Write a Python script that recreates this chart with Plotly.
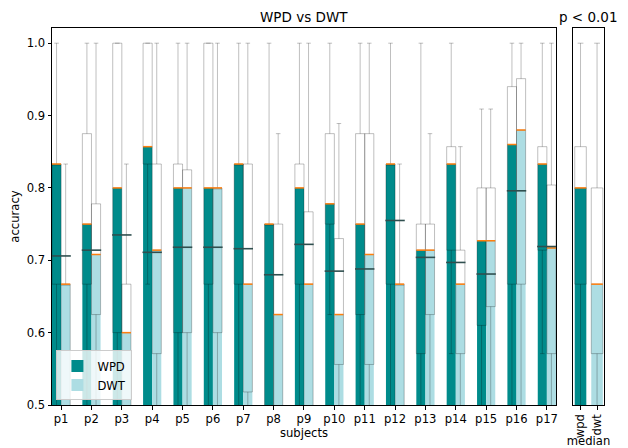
import plotly.graph_objects as go

subjects = [f"p{i}" for i in range(1, 18)]

# WPD per-subject box statistics
wpd_med = [0.833, 0.75, 0.8, 0.857, 0.8, 0.8, 0.833, 0.75, 0.8, 0.778, 0.75, 0.833, 0.714, 0.833, 0.727, 0.86, 0.833]
wpd_q1 = [0.667, 0.667, 0.6, 0.833, 0.6, 0.667, 0.667, 0.45, 0.667, 0.75, 0.625, 0.667, 0.571, 0.714, 0.61, 0.667, 0.714]
wpd_q3 = [0.833, 0.875, 1.0, 1.0, 0.833, 1.0, 0.833, 0.75, 0.833, 0.875, 0.875, 0.833, 0.75, 0.857, 0.8, 0.94, 0.857]
wpd_lo = [0.4, 0.4, 0.4, 0.667, 0.4, 0.4, 0.4, 0.3, 0.4, 0.625, 0.4, 0.4, 0.4, 0.571, 0.4, 0.4, 0.571]
wpd_hi = [1.0, 1.0, 1.0, 1.0, 1.0, 1.0, 1.0, 1.0, 1.0, 1.0, 1.0, 1.0, 1.0, 1.0, 0.909, 1.0, 1.0]

# DWT per-subject box statistics
dwt_med = [0.667, 0.708, 0.6, 0.714, 0.8, 0.8, 0.667, 0.625, 0.667, 0.625, 0.708, 0.667, 0.714, 0.667, 0.727, 0.88, 0.717]
dwt_q1 = [0.45, 0.625, 0.45, 0.571, 0.6, 0.6, 0.518, 0.45, 0.45, 0.556, 0.556, 0.45, 0.625, 0.571, 0.636, 0.667, 0.571]
dwt_q3 = [0.667, 0.778, 0.667, 0.833, 0.825, 0.8, 0.833, 0.75, 0.767, 0.73, 0.875, 0.667, 0.75, 0.714, 0.8, 0.951, 0.804]
dwt_lo = [0.4, 0.4, 0.4, 0.4, 0.4, 0.4, 0.4, 0.3, 0.4, 0.4, 0.4, 0.4, 0.4, 0.4, 0.4, 0.4, 0.4]
dwt_hi = [0.833, 1.0, 0.833, 1.0, 1.0, 1.0, 1.0, 0.875, 1.0, 0.889, 1.0, 0.833, 0.875, 0.857, 0.909, 1.0, 1.0]

# mean accuracy per subject
means = [0.706, 0.714, 0.735, 0.711, 0.718, 0.718, 0.716, 0.68, 0.722, 0.685, 0.688, 0.755, 0.704, 0.697, 0.681, 0.796, 0.719]

# median panel
med_labels = ["wpd", "dwt"]
med_med = [0.8, 0.667]
med_q1 = [0.667, 0.571]
med_q3 = [0.857, 0.8]
med_lo = [0.4, 0.4]
med_hi = [1.0, 1.0]

y_ticks = [0.5, 0.6, 0.7, 0.8, 0.9, 1.0]

TEAL = "#008B8B"
LIGHT = "#ADDDE3"
BOXLINE = "rgba(0,0,0,0.25)"
ORANGE = "#FF7F0E"
MEANC = "#2F4F4F"
FONT = "DejaVu Sans"
FS = 11.6

n = len(subjects)
idx = list(range(n))
off = 0.15
bw = 0.3
xw = [i - off for i in idx]
xd = [i + off for i in idx]
mx = list(range(len(med_labels)))
mbw = 0.7


def segs(xc, yv, half):
    xs, ys = [], []
    for x, y in zip(xc, yv):
        xs += [x - half, x + half, None]
        ys += [y, y, None]
    return xs, ys


def box(x, q1, med, q3, lo, hi, w, xa="x", ya="y"):
    return go.Box(x=x, q1=q1, median=med, q3=q3, lowerfence=lo, upperfence=hi,
                  width=w, fillcolor="rgba(0,0,0,0)",
                  line=dict(color=BOXLINE, width=1), whiskerwidth=0.5,
                  boxpoints=False, showlegend=False, hoverinfo="skip",
                  xaxis=xa, yaxis=ya)


fig = go.Figure()
fig.add_trace(go.Bar(x=xw, y=wpd_med, width=bw, name="WPD",
                     marker=dict(color=TEAL, line=dict(width=0))))
fig.add_trace(go.Bar(x=xd, y=dwt_med, width=bw, name="DWT",
                     marker=dict(color=LIGHT, line=dict(width=0))))
fig.add_trace(go.Bar(x=mx, y=med_med, width=mbw, showlegend=False,
                     marker=dict(color=[TEAL, LIGHT], line=dict(width=0)),
                     xaxis="x2", yaxis="y2"))

fig.add_trace(box(xw, wpd_q1, wpd_med, wpd_q3, wpd_lo, wpd_hi, bw))
fig.add_trace(box(xd, dwt_q1, dwt_med, dwt_q3, dwt_lo, dwt_hi, bw))
fig.add_trace(box(mx, med_q1, med_med, med_q3, med_lo, med_hi, mbw, "x2", "y2"))

# orange median lines
sx, sy = segs(xw + xd, wpd_med + dwt_med, bw / 2)
fig.add_trace(go.Scatter(x=sx, y=sy, mode="lines", line=dict(color=ORANGE, width=1.5),
                         showlegend=False, hoverinfo="skip"))
sx, sy = segs(mx, med_med, mbw / 2)
fig.add_trace(go.Scatter(x=sx, y=sy, mode="lines", line=dict(color=ORANGE, width=1.5),
                         showlegend=False, hoverinfo="skip", xaxis="x2", yaxis="y2"))

# mean lines
sx, sy = segs(idx, means, 0.32)
fig.add_trace(go.Scatter(x=sx, y=sy, mode="lines", line=dict(color=MEANC, width=1.6),
                         showlegend=False, hoverinfo="skip"))

axis_style = dict(showline=True, linecolor="black", linewidth=1, mirror=True,
                  showgrid=False, zeroline=False, ticks="outside", ticklen=3.5,
                  tickcolor="black", automargin=False,
                  tickfont=dict(family=FONT, size=FS, color="black"))

fig.update_layout(
    width=620, height=440,
    margin=dict(l=44, r=24, t=20, b=43),
    barmode="overlay",
    plot_bgcolor="white", paper_bgcolor="white",
    font=dict(family=FONT, size=FS, color="black"),
    xaxis=dict(domain=[0, 0.913], range=[-0.3, 16.3], tickvals=idx, ticktext=subjects,
               title=dict(text="subjects", font=dict(family=FONT, size=FS), standoff=1),
               **axis_style),
    yaxis=dict(range=[0.5, 1.021], tickvals=y_ticks, ticktext=[f"{v:.1f}" for v in y_ticks],
               title=dict(text="accuracy", font=dict(family=FONT, size=FS), standoff=5),
               **axis_style),
    xaxis2=dict(domain=[0.944, 1], anchor="y2", range=[-0.45, 1.42], tickvals=mx,
                ticktext=med_labels, tickangle=-90,
                title=dict(text="median", font=dict(family=FONT, size=FS), standoff=0),
                **axis_style),
    yaxis2=dict(domain=[0, 1], anchor="x2", range=[0.5, 1.021], showline=True,
                linecolor="black", linewidth=1, mirror=True, showgrid=False,
                zeroline=False, showticklabels=False, ticks="", automargin=False),
    legend=dict(x=0.008, y=0.012, xanchor="left", yanchor="bottom",
                bgcolor="rgba(255,255,255,0.8)", bordercolor="#cccccc", borderwidth=1,
                font=dict(family=FONT, size=FS), tracegroupgap=0, itemwidth=30),
    annotations=[
        dict(text="WPD vs DWT", xref="paper", yref="paper", x=0.4565, y=1.0,
             xanchor="center", yanchor="bottom", yshift=1, showarrow=False,
             font=dict(family=FONT, size=13.5)),
        dict(text="p < 0.01", xref="paper", yref="paper", x=0.972, y=1.0,
             xanchor="center", yanchor="bottom", yshift=1, showarrow=False,
             font=dict(family=FONT, size=13.5)),
    ],
)

fig.write_html("out.html")
